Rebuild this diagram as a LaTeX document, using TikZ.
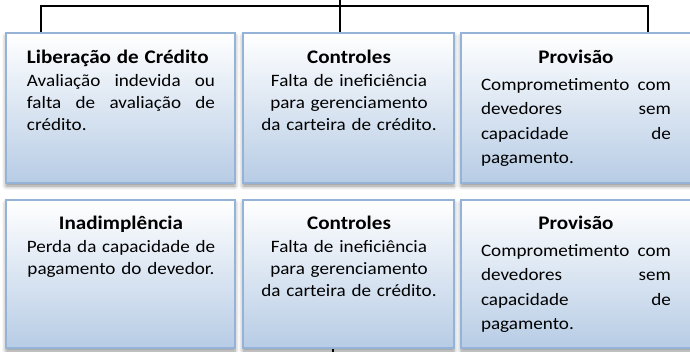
\documentclass[tikz,border=0pt]{standalone}
\usepackage{fontspec}
\setmainfont{Carlito}[FakeStretch=1.1]
\usetikzlibrary{shadows.blur}
\definecolor{boxblue}{RGB}{183,204,229}
\definecolor{boxedge}{RGB}{149,179,215}
\tikzset{
  card/.style={draw=boxedge, line width=2pt, top color=white, bottom color=boxblue,
    inner sep=0pt,
    blur shadow={shadow xshift=0pt, shadow yshift=-3pt, shadow blur radius=4pt, shadow opacity=45}},
  conn/.style={line width=2.5pt, black},
  txt/.style={anchor=base, inner sep=0pt},
  narrow/.style={font=\fontsize{17.4}{22}\selectfont},
  wide/.style={font=\fontsize{17.4}{24.5}\selectfont},
}
\newcommand{\ttl}[1]{{\bfseries\fontsize{19.2}{22}\selectfont #1}}
\newcommand{\jl}[2]{\makebox[#1pt]{#2}}
\begin{document}
\begin{tikzpicture}[x=1pt,y=-1pt]
\useasboundingbox (0,0) rectangle (690,352);
\clip (0,0) rectangle (690,352);
% boxes
\node[card, minimum width=229pt, minimum height=150pt] (b1) at (120.5,108) {};
\node[card, minimum width=211pt, minimum height=150pt] (b2) at (348.5,108) {};
\node[card, minimum width=231pt, minimum height=150pt] (b3) at (576.5,108) {};
\node[card, minimum width=229pt, minimum height=148pt] (b4) at (120.5,274) {};
\node[card, minimum width=211pt, minimum height=148pt] (b5) at (348.5,274) {};
\node[card, minimum width=231pt, minimum height=148pt] (b6) at (576.5,274) {};
% texts
\node[txt, narrow, text width=188pt, align=left] (t1) at (121,64)
  {\ttl{Liberação de Crédito}\\[1pt]
   \jl{188}{Avaliação\hfill indevida\hfill ou}\\
   \jl{188}{falta\hfill de\hfill avaliação\hfill de}\\
   crédito.};
\node[txt, narrow, text width=210pt, align=center] (t2) at (349,64)
  {\ttl{Controles}\\[1pt] Falta de ineficiência\\ para gerenciamento\\ da carteira de crédito.};
\node[txt, wide, text width=190pt, align=left] (t3) at (576,64)
  {\jl{190}{\ttl{Provisão}}\\[2pt]
   \jl{190}{Comprometimento\hfill com}\\
   \jl{190}{devedores\hfill sem}\\
   \jl{190}{capacidade\hfill de}\\
   pagamento.};
\node[txt, narrow, text width=210pt, align=center] (t4) at (121,230)
  {\ttl{Inadimplência}\\[1pt] Perda da capacidade de\\ pagamento do devedor.};
\node[txt, narrow, text width=210pt, align=center] (t5) at (349,230)
  {\ttl{Controles}\\[1pt] Falta de ineficiência\\ para gerenciamento\\ da carteira de crédito.};
\node[txt, wide, text width=190pt, align=left] (t6) at (576,230)
  {\jl{190}{\ttl{Provisão}}\\[2pt]
   \jl{190}{Comprometimento\hfill com}\\
   \jl{190}{devedores\hfill sem}\\
   \jl{190}{capacidade\hfill de}\\
   pagamento.};
% connectors
\coordinate (in) at (340,0);
\coordinate (hl) at (41,6);
\coordinate (hr) at (648,6);
\coordinate (out) at (333,352);
\draw[conn] (in) -- (in |- b2.north);
\draw[conn] (hl |- b1.north) -- (hl) -- (hr) -- (hr |- b3.north);
\draw[conn] (out |- b5.south) -- (out);
\end{tikzpicture}
\end{document}
